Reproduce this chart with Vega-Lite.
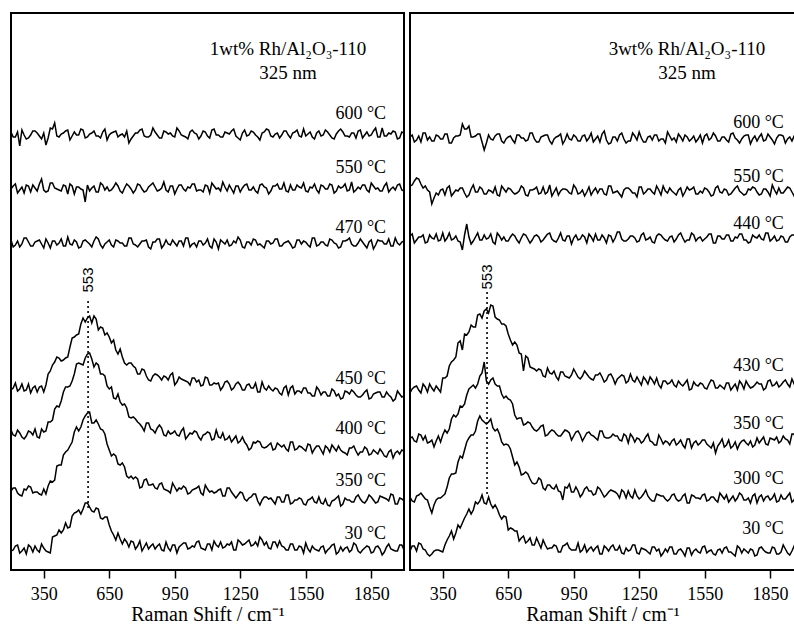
{
"$schema": "https://vega.github.io/schema/vega-lite/v6.json",
"padding": {"left": 10, "top": 12, "right": 0, "bottom": 0},
"background": "white",
"spacing": 6,
"bounds": "flush",
"config": {
 "view": {"stroke": "#000", "strokeWidth": 2},
 "axis": {"grid": false, "domain": false, "tickColor": "#000", "tickWidth": 1.5, "tickSize": 8},
 "line": {"color": "#000", "strokeWidth": 1.5}
},
"datasets": {
"l600": [{"x":200,"y":438},{"x":210,"y":433},{"x":220,"y":433},{"x":230,"y":438},{"x":240,"y":424},{"x":250,"y":440},{"x":260,"y":435},{"x":270,"y":431},{"x":280,"y":432},{"x":290,"y":435},{"x":300,"y":439},{"x":310,"y":439},{"x":320,"y":437},{"x":330,"y":434},{"x":340,"y":431},{"x":350,"y":437},{"x":360,"y":425},{"x":370,"y":432},{"x":380,"y":442},{"x":390,"y":441},
{"x":400,"y":447},{"x":410,"y":434},{"x":420,"y":433},{"x":430,"y":436},{"x":440,"y":437},{"x":450,"y":439},{"x":460,"y":440},{"x":470,"y":430},{"x":480,"y":434},{"x":490,"y":438},{"x":500,"y":435},{"x":510,"y":435},{"x":520,"y":441},{"x":530,"y":440},{"x":540,"y":432},{"x":550,"y":433},{"x":560,"y":436},{"x":570,"y":437},{"x":580,"y":439},{"x":590,"y":434},
{"x":600,"y":434},{"x":610,"y":432},{"x":620,"y":438},{"x":630,"y":441},{"x":640,"y":430},{"x":650,"y":435},{"x":660,"y":437},{"x":670,"y":438},{"x":680,"y":439},{"x":690,"y":433},{"x":700,"y":435},{"x":710,"y":436},{"x":720,"y":433},{"x":730,"y":439},{"x":740,"y":427},{"x":750,"y":431},{"x":760,"y":434},{"x":770,"y":437},{"x":780,"y":437},{"x":790,"y":440},
{"x":800,"y":441},{"x":810,"y":434},{"x":820,"y":433},{"x":830,"y":433},{"x":840,"y":435},{"x":850,"y":442},{"x":860,"y":438},{"x":870,"y":435},{"x":880,"y":432},{"x":890,"y":432},{"x":900,"y":439},{"x":910,"y":438},{"x":920,"y":436},{"x":930,"y":437},{"x":940,"y":434},{"x":950,"y":433},{"x":960,"y":442},{"x":970,"y":439},{"x":980,"y":435},{"x":990,"y":434},
{"x":1000,"y":433},{"x":1010,"y":431},{"x":1020,"y":438},{"x":1030,"y":440},{"x":1040,"y":437},{"x":1050,"y":436},{"x":1060,"y":431},{"x":1070,"y":434},{"x":1080,"y":439},{"x":1090,"y":438},{"x":1100,"y":434},{"x":1110,"y":432},{"x":1120,"y":440},{"x":1130,"y":441},{"x":1140,"y":435},{"x":1150,"y":435},{"x":1160,"y":433},{"x":1170,"y":433},{"x":1180,"y":438},{"x":1190,"y":437},
{"x":1200,"y":436},{"x":1210,"y":439},{"x":1220,"y":441},{"x":1230,"y":434},{"x":1240,"y":432},{"x":1250,"y":430},{"x":1260,"y":437},{"x":1270,"y":440},{"x":1280,"y":434},{"x":1290,"y":435},{"x":1300,"y":439},{"x":1310,"y":438},{"x":1320,"y":435},{"x":1330,"y":433},{"x":1340,"y":430},{"x":1350,"y":437},{"x":1360,"y":438},{"x":1370,"y":441},{"x":1380,"y":440},{"x":1390,"y":434},
{"x":1400,"y":433},{"x":1410,"y":436},{"x":1420,"y":437},{"x":1430,"y":432},{"x":1440,"y":435},{"x":1450,"y":439},{"x":1460,"y":439},{"x":1470,"y":435},{"x":1480,"y":432},{"x":1490,"y":437},{"x":1500,"y":438},{"x":1510,"y":440},{"x":1520,"y":434},{"x":1530,"y":433},{"x":1540,"y":441},{"x":1550,"y":434},{"x":1560,"y":436},{"x":1570,"y":438},{"x":1580,"y":433},{"x":1590,"y":431},
{"x":1600,"y":437},{"x":1610,"y":439},{"x":1620,"y":434},{"x":1630,"y":435},{"x":1640,"y":440},{"x":1650,"y":438},{"x":1660,"y":435},{"x":1670,"y":432},{"x":1680,"y":431},{"x":1690,"y":436},{"x":1700,"y":439},{"x":1710,"y":441},{"x":1720,"y":438},{"x":1730,"y":434},{"x":1740,"y":434},{"x":1750,"y":433},{"x":1760,"y":437},{"x":1770,"y":437},{"x":1780,"y":432},{"x":1790,"y":439},
{"x":1800,"y":440},{"x":1810,"y":432},{"x":1820,"y":435},{"x":1830,"y":438},{"x":1840,"y":434},{"x":1850,"y":435},{"x":1860,"y":439},{"x":1870,"y":442},{"x":1880,"y":433},{"x":1890,"y":433},{"x":1900,"y":442},{"x":1910,"y":434},{"x":1920,"y":434},{"x":1930,"y":437},{"x":1940,"y":436},{"x":1950,"y":439},{"x":1960,"y":438},{"x":1970,"y":431},{"x":1980,"y":432},{"x":1990,"y":438},{"x":2000,"y":437}],
"l550": [{"x":200,"y":381},{"x":210,"y":384},{"x":220,"y":386},{"x":230,"y":377},{"x":240,"y":380},{"x":250,"y":383},{"x":260,"y":377},{"x":270,"y":385},{"x":280,"y":384},{"x":290,"y":378},{"x":300,"y":385},{"x":310,"y":382},{"x":320,"y":379},{"x":330,"y":386},{"x":340,"y":391},{"x":350,"y":380},{"x":360,"y":378},{"x":370,"y":379},{"x":380,"y":387},{"x":390,"y":387},
{"x":400,"y":382},{"x":410,"y":381},{"x":420,"y":380},{"x":430,"y":379},{"x":440,"y":385},{"x":450,"y":384},{"x":460,"y":376},{"x":470,"y":386},{"x":480,"y":384},{"x":490,"y":376},{"x":500,"y":383},{"x":510,"y":383},{"x":520,"y":381},{"x":530,"y":380},{"x":540,"y":368},{"x":550,"y":385},{"x":560,"y":379},{"x":570,"y":382},{"x":580,"y":384},{"x":590,"y":378},
{"x":600,"y":378},{"x":610,"y":387},{"x":620,"y":385},{"x":630,"y":380},{"x":640,"y":383},{"x":650,"y":379},{"x":660,"y":380},{"x":670,"y":383},{"x":680,"y":387},{"x":690,"y":384},{"x":700,"y":379},{"x":710,"y":377},{"x":720,"y":382},{"x":730,"y":386},{"x":740,"y":384},{"x":750,"y":381},{"x":760,"y":377},{"x":770,"y":380},{"x":780,"y":386},{"x":790,"y":385},
{"x":800,"y":381},{"x":810,"y":378},{"x":820,"y":379},{"x":830,"y":383},{"x":840,"y":385},{"x":850,"y":387},{"x":860,"y":383},{"x":870,"y":379},{"x":880,"y":380},{"x":890,"y":382},{"x":900,"y":388},{"x":910,"y":380},{"x":920,"y":378},{"x":930,"y":384},{"x":940,"y":384},{"x":950,"y":376},{"x":960,"y":381},{"x":970,"y":385},{"x":980,"y":385},{"x":990,"y":381},
{"x":1000,"y":379},{"x":1010,"y":383},{"x":1020,"y":382},{"x":1030,"y":386},{"x":1040,"y":386},{"x":1050,"y":379},{"x":1060,"y":380},{"x":1070,"y":380},{"x":1080,"y":378},{"x":1090,"y":385},{"x":1100,"y":384},{"x":1110,"y":377},{"x":1120,"y":387},{"x":1130,"y":384},{"x":1140,"y":381},{"x":1150,"y":382},{"x":1160,"y":379},{"x":1170,"y":388},{"x":1180,"y":383},{"x":1190,"y":379},
{"x":1200,"y":385},{"x":1210,"y":381},{"x":1220,"y":377},{"x":1230,"y":384},{"x":1240,"y":384},{"x":1250,"y":378},{"x":1260,"y":382},{"x":1270,"y":385},{"x":1280,"y":386},{"x":1290,"y":380},{"x":1300,"y":380},{"x":1310,"y":383},{"x":1320,"y":379},{"x":1330,"y":377},{"x":1340,"y":385},{"x":1350,"y":386},{"x":1360,"y":383},{"x":1370,"y":382},{"x":1380,"y":376},{"x":1390,"y":379},
{"x":1400,"y":384},{"x":1410,"y":384},{"x":1420,"y":386},{"x":1430,"y":381},{"x":1440,"y":381},{"x":1450,"y":387},{"x":1460,"y":379},{"x":1470,"y":378},{"x":1480,"y":385},{"x":1490,"y":380},{"x":1500,"y":380},{"x":1510,"y":385},{"x":1520,"y":383},{"x":1530,"y":382},{"x":1540,"y":387},{"x":1550,"y":379},{"x":1560,"y":378},{"x":1570,"y":383},{"x":1580,"y":382},{"x":1590,"y":386},
{"x":1600,"y":380},{"x":1610,"y":377},{"x":1620,"y":385},{"x":1630,"y":384},{"x":1640,"y":381},{"x":1650,"y":381},{"x":1660,"y":386},{"x":1670,"y":385},{"x":1680,"y":377},{"x":1690,"y":379},{"x":1700,"y":384},{"x":1710,"y":382},{"x":1720,"y":383},{"x":1730,"y":386},{"x":1740,"y":379},{"x":1750,"y":380},{"x":1760,"y":388},{"x":1770,"y":378},{"x":1780,"y":380},{"x":1790,"y":383},
{"x":1800,"y":381},{"x":1810,"y":385},{"x":1820,"y":385},{"x":1830,"y":380},{"x":1840,"y":378},{"x":1850,"y":387},{"x":1860,"y":384},{"x":1870,"y":381},{"x":1880,"y":382},{"x":1890,"y":379},{"x":1900,"y":379},{"x":1910,"y":384},{"x":1920,"y":387},{"x":1930,"y":378},{"x":1940,"y":381},{"x":1950,"y":383},{"x":1960,"y":380},{"x":1970,"y":385},{"x":1980,"y":386},{"x":1990,"y":380},{"x":2000,"y":379}],
"l470": [{"x":200,"y":330},{"x":210,"y":323},{"x":220,"y":325},{"x":230,"y":329},{"x":240,"y":323},{"x":250,"y":326},{"x":260,"y":332},{"x":270,"y":332},{"x":280,"y":328},{"x":290,"y":324},{"x":300,"y":324},{"x":310,"y":328},{"x":320,"y":329},{"x":330,"y":330},{"x":340,"y":326},{"x":350,"y":322},{"x":360,"y":331},{"x":370,"y":327},{"x":380,"y":322},{"x":390,"y":329},
{"x":400,"y":329},{"x":410,"y":325},{"x":420,"y":327},{"x":430,"y":331},{"x":440,"y":324},{"x":450,"y":324},{"x":460,"y":333},{"x":470,"y":326},{"x":480,"y":325},{"x":490,"y":330},{"x":500,"y":328},{"x":510,"y":322},{"x":520,"y":323},{"x":530,"y":329},{"x":540,"y":330},{"x":550,"y":328},{"x":560,"y":326},{"x":570,"y":323},{"x":580,"y":329},{"x":590,"y":333},
{"x":600,"y":331},{"x":610,"y":325},{"x":620,"y":322},{"x":630,"y":326},{"x":640,"y":328},{"x":650,"y":330},{"x":660,"y":325},{"x":670,"y":323},{"x":680,"y":330},{"x":690,"y":329},{"x":700,"y":327},{"x":710,"y":327},{"x":720,"y":324},{"x":730,"y":324},{"x":740,"y":332},{"x":750,"y":332},{"x":760,"y":326},{"x":770,"y":325},{"x":780,"y":323},{"x":790,"y":326},
{"x":800,"y":329},{"x":810,"y":329},{"x":820,"y":330},{"x":830,"y":323},{"x":840,"y":321},{"x":850,"y":328},{"x":860,"y":328},{"x":870,"y":331},{"x":880,"y":331},{"x":890,"y":322},{"x":900,"y":325},{"x":910,"y":330},{"x":920,"y":326},{"x":930,"y":325},{"x":940,"y":330},{"x":950,"y":327},{"x":960,"y":324},{"x":970,"y":329},{"x":980,"y":329},{"x":990,"y":324},
{"x":1000,"y":332},{"x":1010,"y":332},{"x":1020,"y":323},{"x":1030,"y":326},{"x":1040,"y":327},{"x":1050,"y":323},{"x":1060,"y":329},{"x":1070,"y":329},{"x":1080,"y":325},{"x":1090,"y":327},{"x":1100,"y":331},{"x":1110,"y":324},{"x":1120,"y":322},{"x":1130,"y":331},{"x":1140,"y":328},{"x":1150,"y":321},{"x":1160,"y":330},{"x":1170,"y":328},{"x":1180,"y":326},{"x":1190,"y":330},
{"x":1200,"y":324},{"x":1210,"y":325},{"x":1220,"y":329},{"x":1230,"y":327},{"x":1240,"y":333},{"x":1250,"y":330},{"x":1260,"y":323},{"x":1270,"y":322},{"x":1280,"y":328},{"x":1290,"y":328},{"x":1300,"y":325},{"x":1310,"y":331},{"x":1320,"y":330},{"x":1330,"y":325},{"x":1340,"y":326},{"x":1350,"y":324},{"x":1360,"y":322},{"x":1370,"y":329},{"x":1380,"y":329},{"x":1390,"y":326},
{"x":1400,"y":327},{"x":1410,"y":331},{"x":1420,"y":331},{"x":1430,"y":324},{"x":1440,"y":324},{"x":1450,"y":327},{"x":1460,"y":328},{"x":1470,"y":329},{"x":1480,"y":326},{"x":1490,"y":322},{"x":1500,"y":323},{"x":1510,"y":330},{"x":1520,"y":330},{"x":1530,"y":326},{"x":1540,"y":329},{"x":1550,"y":328},{"x":1560,"y":325},{"x":1570,"y":323},{"x":1580,"y":332},{"x":1590,"y":332},
{"x":1600,"y":324},{"x":1610,"y":325},{"x":1620,"y":328},{"x":1630,"y":328},{"x":1640,"y":325},{"x":1650,"y":324},{"x":1660,"y":331},{"x":1670,"y":330},{"x":1680,"y":327},{"x":1690,"y":326},{"x":1700,"y":322},{"x":1710,"y":323},{"x":1720,"y":329},{"x":1730,"y":329},{"x":1740,"y":330},{"x":1750,"y":332},{"x":1760,"y":326},{"x":1770,"y":324},{"x":1780,"y":324},{"x":1790,"y":327},
{"x":1800,"y":331},{"x":1810,"y":328},{"x":1820,"y":325},{"x":1830,"y":322},{"x":1840,"y":328},{"x":1850,"y":330},{"x":1860,"y":321},{"x":1870,"y":325},{"x":1880,"y":330},{"x":1890,"y":329},{"x":1900,"y":329},{"x":1910,"y":326},{"x":1920,"y":326},{"x":1930,"y":331},{"x":1940,"y":324},{"x":1950,"y":324},{"x":1960,"y":332},{"x":1970,"y":327},{"x":1980,"y":325},{"x":1990,"y":328},{"x":2000,"y":329}],
"l450": [{"x":200,"y":180},{"x":210,"y":182},{"x":220,"y":187},{"x":230,"y":179},{"x":240,"y":181},{"x":250,"y":186},{"x":260,"y":179},{"x":270,"y":180},{"x":280,"y":186},{"x":290,"y":177},{"x":300,"y":182},{"x":310,"y":184},{"x":320,"y":178},{"x":330,"y":183},{"x":340,"y":184},{"x":350,"y":178},{"x":360,"y":185},{"x":370,"y":196},{"x":380,"y":199},{"x":390,"y":205},
{"x":400,"y":208},{"x":410,"y":213},{"x":420,"y":212},{"x":430,"y":209},{"x":440,"y":210},{"x":450,"y":212},{"x":460,"y":213},{"x":470,"y":223},{"x":480,"y":232},{"x":490,"y":233},{"x":500,"y":235},{"x":510,"y":236},{"x":520,"y":246},{"x":530,"y":252},{"x":540,"y":248},{"x":550,"y":252},{"x":560,"y":254},{"x":570,"y":247},{"x":580,"y":254},{"x":590,"y":251},
{"x":600,"y":240},{"x":610,"y":243},{"x":620,"y":242},{"x":630,"y":235},{"x":640,"y":237},{"x":650,"y":233},{"x":660,"y":227},{"x":670,"y":230},{"x":680,"y":220},{"x":690,"y":216},{"x":700,"y":221},{"x":710,"y":213},{"x":720,"y":207},{"x":730,"y":205},{"x":740,"y":207},{"x":750,"y":207},{"x":760,"y":204},{"x":770,"y":202},{"x":780,"y":196},{"x":790,"y":196},
{"x":800,"y":201},{"x":810,"y":200},{"x":820,"y":194},{"x":830,"y":190},{"x":840,"y":189},{"x":850,"y":194},{"x":860,"y":196},{"x":870,"y":195},{"x":880,"y":193},{"x":890,"y":190},{"x":900,"y":194},{"x":910,"y":193},{"x":920,"y":190},{"x":930,"y":195},{"x":940,"y":197},{"x":950,"y":185},{"x":960,"y":188},{"x":970,"y":193},{"x":980,"y":191},{"x":990,"y":190},
{"x":1000,"y":189},{"x":1010,"y":188},{"x":1020,"y":185},{"x":1030,"y":192},{"x":1040,"y":192},{"x":1050,"y":188},{"x":1060,"y":190},{"x":1070,"y":184},{"x":1080,"y":185},{"x":1090,"y":193},{"x":1100,"y":192},{"x":1110,"y":185},{"x":1120,"y":185},{"x":1130,"y":187},{"x":1140,"y":186},{"x":1150,"y":187},{"x":1160,"y":180},{"x":1170,"y":183},{"x":1180,"y":188},{"x":1190,"y":189},
{"x":1200,"y":186},{"x":1210,"y":180},{"x":1220,"y":182},{"x":1230,"y":186},{"x":1240,"y":188},{"x":1250,"y":185},{"x":1260,"y":180},{"x":1270,"y":180},{"x":1280,"y":185},{"x":1290,"y":186},{"x":1300,"y":182},{"x":1310,"y":182},{"x":1320,"y":187},{"x":1330,"y":178},{"x":1340,"y":178},{"x":1350,"y":188},{"x":1360,"y":182},{"x":1370,"y":180},{"x":1380,"y":184},{"x":1390,"y":181},
{"x":1400,"y":179},{"x":1410,"y":182},{"x":1420,"y":181},{"x":1430,"y":177},{"x":1440,"y":175},{"x":1450,"y":182},{"x":1460,"y":184},{"x":1470,"y":175},{"x":1480,"y":182},{"x":1490,"y":184},{"x":1500,"y":176},{"x":1510,"y":179},{"x":1520,"y":179},{"x":1530,"y":177},{"x":1540,"y":182},{"x":1550,"y":182},{"x":1560,"y":177},{"x":1570,"y":177},{"x":1580,"y":174},{"x":1590,"y":174},
{"x":1600,"y":183},{"x":1610,"y":180},{"x":1620,"y":175},{"x":1630,"y":178},{"x":1640,"y":178},{"x":1650,"y":174},{"x":1660,"y":174},{"x":1670,"y":181},{"x":1680,"y":179},{"x":1690,"y":174},{"x":1700,"y":176},{"x":1710,"y":171},{"x":1720,"y":172},{"x":1730,"y":179},{"x":1740,"y":178},{"x":1750,"y":176},{"x":1760,"y":180},{"x":1770,"y":178},{"x":1780,"y":175},{"x":1790,"y":173},
{"x":1800,"y":173},{"x":1810,"y":175},{"x":1820,"y":178},{"x":1830,"y":180},{"x":1840,"y":171},{"x":1850,"y":172},{"x":1860,"y":176},{"x":1870,"y":177},{"x":1880,"y":178},{"x":1890,"y":178},{"x":1900,"y":173},{"x":1910,"y":173},{"x":1920,"y":178},{"x":1930,"y":175},{"x":1940,"y":173},{"x":1950,"y":169},{"x":1960,"y":171},{"x":1970,"y":179},{"x":1980,"y":176},{"x":1990,"y":173},{"x":2000,"y":174}],
"l400": [{"x":200,"y":140},{"x":210,"y":135},{"x":220,"y":134},{"x":230,"y":140},{"x":240,"y":137},{"x":250,"y":133},{"x":260,"y":131},{"x":270,"y":134},{"x":280,"y":139},{"x":290,"y":138},{"x":300,"y":135},{"x":310,"y":141},{"x":320,"y":133},{"x":330,"y":132},{"x":340,"y":141},{"x":350,"y":138},{"x":360,"y":139},{"x":370,"y":148},{"x":380,"y":148},{"x":390,"y":150},
{"x":400,"y":161},{"x":410,"y":164},{"x":420,"y":163},{"x":430,"y":169},{"x":440,"y":178},{"x":450,"y":183},{"x":460,"y":183},{"x":470,"y":184},{"x":480,"y":189},{"x":490,"y":196},{"x":500,"y":206},{"x":510,"y":207},{"x":520,"y":206},{"x":530,"y":205},{"x":540,"y":212},{"x":550,"y":216},{"x":560,"y":217},{"x":570,"y":211},{"x":580,"y":203},{"x":590,"y":207},
{"x":600,"y":205},{"x":610,"y":196},{"x":620,"y":196},{"x":630,"y":194},{"x":640,"y":184},{"x":650,"y":181},{"x":660,"y":183},{"x":670,"y":172},{"x":680,"y":171},{"x":690,"y":176},{"x":700,"y":168},{"x":710,"y":165},{"x":720,"y":166},{"x":730,"y":162},{"x":740,"y":153},{"x":750,"y":152},{"x":760,"y":153},{"x":770,"y":151},{"x":780,"y":148},{"x":790,"y":146},
{"x":800,"y":143},{"x":810,"y":139},{"x":820,"y":147},{"x":830,"y":147},{"x":840,"y":141},{"x":850,"y":140},{"x":860,"y":137},{"x":870,"y":142},{"x":880,"y":145},{"x":890,"y":142},{"x":900,"y":135},{"x":910,"y":134},{"x":920,"y":139},{"x":930,"y":136},{"x":940,"y":137},{"x":950,"y":139},{"x":960,"y":135},{"x":970,"y":134},{"x":980,"y":139},{"x":990,"y":142},
{"x":1000,"y":131},{"x":1010,"y":134},{"x":1020,"y":137},{"x":1030,"y":136},{"x":1040,"y":139},{"x":1050,"y":138},{"x":1060,"y":133},{"x":1070,"y":130},{"x":1080,"y":135},{"x":1090,"y":136},{"x":1100,"y":138},{"x":1110,"y":137},{"x":1120,"y":130},{"x":1130,"y":131},{"x":1140,"y":140},{"x":1150,"y":133},{"x":1160,"y":132},{"x":1170,"y":137},{"x":1180,"y":130},{"x":1190,"y":131},
{"x":1200,"y":134},{"x":1210,"y":128},{"x":1220,"y":131},{"x":1230,"y":134},{"x":1240,"y":127},{"x":1250,"y":129},{"x":1260,"y":133},{"x":1270,"y":128},{"x":1280,"y":125},{"x":1290,"y":120},{"x":1300,"y":122},{"x":1310,"y":128},{"x":1320,"y":127},{"x":1330,"y":129},{"x":1340,"y":128},{"x":1350,"y":123},{"x":1360,"y":122},{"x":1370,"y":123},{"x":1380,"y":125},{"x":1390,"y":127},
{"x":1400,"y":120},{"x":1410,"y":121},{"x":1420,"y":127},{"x":1430,"y":125},{"x":1440,"y":123},{"x":1450,"y":125},{"x":1460,"y":121},{"x":1470,"y":119},{"x":1480,"y":128},{"x":1490,"y":128},{"x":1500,"y":120},{"x":1510,"y":121},{"x":1520,"y":124},{"x":1530,"y":123},{"x":1540,"y":121},{"x":1550,"y":119},{"x":1560,"y":126},{"x":1570,"y":125},{"x":1580,"y":117},{"x":1590,"y":121},
{"x":1600,"y":124},{"x":1610,"y":124},{"x":1620,"y":120},{"x":1630,"y":116},{"x":1640,"y":124},{"x":1650,"y":122},{"x":1660,"y":118},{"x":1670,"y":125},{"x":1680,"y":122},{"x":1690,"y":119},{"x":1700,"y":124},{"x":1710,"y":120},{"x":1720,"y":118},{"x":1730,"y":117},{"x":1740,"y":115},{"x":1750,"y":122},{"x":1760,"y":122},{"x":1770,"y":124},{"x":1780,"y":119},{"x":1790,"y":115},
{"x":1800,"y":118},{"x":1810,"y":118},{"x":1820,"y":123},{"x":1830,"y":121},{"x":1840,"y":115},{"x":1850,"y":116},{"x":1860,"y":120},{"x":1870,"y":118},{"x":1880,"y":116},{"x":1890,"y":121},{"x":1900,"y":118},{"x":1910,"y":114},{"x":1920,"y":113},{"x":1930,"y":118},{"x":1940,"y":120},{"x":1950,"y":112},{"x":1960,"y":117},{"x":1970,"y":119},{"x":1980,"y":116},{"x":1990,"y":120},{"x":2000,"y":119}],
"l350": [{"x":200,"y":79},{"x":210,"y":82},{"x":220,"y":82},{"x":230,"y":77},{"x":240,"y":75},{"x":250,"y":74},{"x":260,"y":81},{"x":270,"y":80},{"x":280,"y":84},{"x":290,"y":83},{"x":300,"y":77},{"x":310,"y":78},{"x":320,"y":78},{"x":330,"y":76},{"x":340,"y":75},{"x":350,"y":81},{"x":360,"y":76},{"x":370,"y":84},{"x":380,"y":89},{"x":390,"y":88},
{"x":400,"y":90},{"x":410,"y":104},{"x":420,"y":105},{"x":430,"y":105},{"x":440,"y":115},{"x":450,"y":118},{"x":460,"y":120},{"x":470,"y":124},{"x":480,"y":128},{"x":490,"y":138},{"x":500,"y":143},{"x":510,"y":139},{"x":520,"y":143},{"x":530,"y":150},{"x":540,"y":154},{"x":550,"y":157},{"x":560,"y":158},{"x":570,"y":147},{"x":580,"y":147},{"x":590,"y":150},
{"x":600,"y":146},{"x":610,"y":141},{"x":620,"y":140},{"x":630,"y":136},{"x":640,"y":126},{"x":650,"y":120},{"x":660,"y":114},{"x":670,"y":116},{"x":680,"y":114},{"x":690,"y":106},{"x":700,"y":105},{"x":710,"y":107},{"x":720,"y":103},{"x":730,"y":94},{"x":740,"y":92},{"x":750,"y":94},{"x":760,"y":91},{"x":770,"y":93},{"x":780,"y":91},{"x":790,"y":82},
{"x":800,"y":83},{"x":810,"y":90},{"x":820,"y":91},{"x":830,"y":85},{"x":840,"y":85},{"x":850,"y":86},{"x":860,"y":82},{"x":870,"y":81},{"x":880,"y":86},{"x":890,"y":87},{"x":900,"y":81},{"x":910,"y":80},{"x":920,"y":79},{"x":930,"y":77},{"x":940,"y":87},{"x":950,"y":83},{"x":960,"y":79},{"x":970,"y":82},{"x":980,"y":81},{"x":990,"y":84},
{"x":1000,"y":82},{"x":1010,"y":76},{"x":1020,"y":77},{"x":1030,"y":80},{"x":1040,"y":81},{"x":1050,"y":82},{"x":1060,"y":84},{"x":1070,"y":77},{"x":1080,"y":75},{"x":1090,"y":85},{"x":1100,"y":81},{"x":1110,"y":78},{"x":1120,"y":79},{"x":1130,"y":77},{"x":1140,"y":78},{"x":1150,"y":80},{"x":1160,"y":81},{"x":1170,"y":74},{"x":1180,"y":74},{"x":1190,"y":82},
{"x":1200,"y":82},{"x":1210,"y":78},{"x":1220,"y":75},{"x":1230,"y":72},{"x":1240,"y":75},{"x":1250,"y":78},{"x":1260,"y":77},{"x":1270,"y":71},{"x":1280,"y":69},{"x":1290,"y":72},{"x":1300,"y":73},{"x":1310,"y":76},{"x":1320,"y":76},{"x":1330,"y":69},{"x":1340,"y":65},{"x":1350,"y":70},{"x":1360,"y":73},{"x":1370,"y":73},{"x":1380,"y":71},{"x":1390,"y":72},
{"x":1400,"y":69},{"x":1410,"y":66},{"x":1420,"y":73},{"x":1430,"y":73},{"x":1440,"y":68},{"x":1450,"y":68},{"x":1460,"y":75},{"x":1470,"y":75},{"x":1480,"y":66},{"x":1490,"y":67},{"x":1500,"y":70},{"x":1510,"y":70},{"x":1520,"y":72},{"x":1530,"y":71},{"x":1540,"y":66},{"x":1550,"y":65},{"x":1560,"y":70},{"x":1570,"y":71},{"x":1580,"y":73},{"x":1590,"y":68},
{"x":1600,"y":67},{"x":1610,"y":73},{"x":1620,"y":67},{"x":1630,"y":66},{"x":1640,"y":71},{"x":1650,"y":65},{"x":1660,"y":64},{"x":1670,"y":69},{"x":1680,"y":70},{"x":1690,"y":72},{"x":1700,"y":74},{"x":1710,"y":64},{"x":1720,"y":66},{"x":1730,"y":72},{"x":1740,"y":70},{"x":1750,"y":70},{"x":1760,"y":68},{"x":1770,"y":68},{"x":1780,"y":73},{"x":1790,"y":75},
{"x":1800,"y":71},{"x":1810,"y":68},{"x":1820,"y":67},{"x":1830,"y":70},{"x":1840,"y":75},{"x":1850,"y":73},{"x":1860,"y":70},{"x":1870,"y":67},{"x":1880,"y":68},{"x":1890,"y":74},{"x":1900,"y":73},{"x":1910,"y":72},{"x":1920,"y":71},{"x":1930,"y":69},{"x":1940,"y":76},{"x":1950,"y":75},{"x":1960,"y":66},{"x":1970,"y":66},{"x":1980,"y":72},{"x":1990,"y":71},{"x":2000,"y":69}],
"l30": [{"x":200,"y":19},{"x":210,"y":20},{"x":220,"y":24},{"x":230,"y":25},{"x":240,"y":17},{"x":250,"y":19},{"x":260,"y":22},{"x":270,"y":16},{"x":280,"y":25},{"x":290,"y":23},{"x":300,"y":18},{"x":310,"y":24},{"x":320,"y":20},{"x":330,"y":18},{"x":340,"y":26},{"x":350,"y":22},{"x":360,"y":19},{"x":370,"y":18},{"x":380,"y":17},{"x":390,"y":33},
{"x":400,"y":34},{"x":410,"y":35},{"x":420,"y":40},{"x":430,"y":37},{"x":440,"y":40},{"x":450,"y":47},{"x":460,"y":42},{"x":470,"y":43},{"x":480,"y":54},{"x":490,"y":57},{"x":500,"y":58},{"x":510,"y":60},{"x":520,"y":56},{"x":530,"y":61},{"x":540,"y":67},{"x":550,"y":67},{"x":560,"y":63},{"x":570,"y":59},{"x":580,"y":58},{"x":590,"y":62},
{"x":600,"y":61},{"x":610,"y":52},{"x":620,"y":51},{"x":630,"y":53},{"x":640,"y":53},{"x":650,"y":45},{"x":660,"y":39},{"x":670,"y":35},{"x":680,"y":30},{"x":690,"y":37},{"x":700,"y":31},{"x":710,"y":26},{"x":720,"y":31},{"x":730,"y":28},{"x":740,"y":23},{"x":750,"y":29},{"x":760,"y":28},{"x":770,"y":21},{"x":780,"y":24},{"x":790,"y":29},
{"x":800,"y":19},{"x":810,"y":23},{"x":820,"y":27},{"x":830,"y":21},{"x":840,"y":24},{"x":850,"y":26},{"x":860,"y":21},{"x":870,"y":24},{"x":880,"y":26},{"x":890,"y":20},{"x":900,"y":19},{"x":910,"y":28},{"x":920,"y":22},{"x":930,"y":19},{"x":940,"y":25},{"x":950,"y":25},{"x":960,"y":17},{"x":970,"y":23},{"x":980,"y":25},{"x":990,"y":27},
{"x":1000,"y":27},{"x":1010,"y":21},{"x":1020,"y":22},{"x":1030,"y":24},{"x":1040,"y":23},{"x":1050,"y":28},{"x":1060,"y":29},{"x":1070,"y":22},{"x":1080,"y":21},{"x":1090,"y":20},{"x":1100,"y":26},{"x":1110,"y":26},{"x":1120,"y":20},{"x":1130,"y":29},{"x":1140,"y":25},{"x":1150,"y":23},{"x":1160,"y":28},{"x":1170,"y":22},{"x":1180,"y":23},{"x":1190,"y":26},
{"x":1200,"y":25},{"x":1210,"y":28},{"x":1220,"y":20},{"x":1230,"y":20},{"x":1240,"y":30},{"x":1250,"y":28},{"x":1260,"y":25},{"x":1270,"y":26},{"x":1280,"y":28},{"x":1290,"y":30},{"x":1300,"y":24},{"x":1310,"y":25},{"x":1320,"y":28},{"x":1330,"y":24},{"x":1340,"y":33},{"x":1350,"y":30},{"x":1360,"y":25},{"x":1370,"y":28},{"x":1380,"y":22},{"x":1390,"y":21},
{"x":1400,"y":28},{"x":1410,"y":28},{"x":1420,"y":23},{"x":1430,"y":29},{"x":1440,"y":24},{"x":1450,"y":23},{"x":1460,"y":20},{"x":1470,"y":20},{"x":1480,"y":26},{"x":1490,"y":26},{"x":1500,"y":20},{"x":1510,"y":20},{"x":1520,"y":24},{"x":1530,"y":23},{"x":1540,"y":17},{"x":1550,"y":27},{"x":1560,"y":21},{"x":1570,"y":18},{"x":1580,"y":24},{"x":1590,"y":21},
{"x":1600,"y":20},{"x":1610,"y":19},{"x":1620,"y":23},{"x":1630,"y":24},{"x":1640,"y":17},{"x":1650,"y":20},{"x":1660,"y":22},{"x":1670,"y":25},{"x":1680,"y":26},{"x":1690,"y":16},{"x":1700,"y":18},{"x":1710,"y":23},{"x":1720,"y":19},{"x":1730,"y":22},{"x":1740,"y":23},{"x":1750,"y":18},{"x":1760,"y":20},{"x":1770,"y":27},{"x":1780,"y":25},{"x":1790,"y":19},
{"x":1800,"y":17},{"x":1810,"y":20},{"x":1820,"y":22},{"x":1830,"y":24},{"x":1840,"y":23},{"x":1850,"y":17},{"x":1860,"y":18},{"x":1870,"y":23},{"x":1880,"y":24},{"x":1890,"y":21},{"x":1900,"y":15},{"x":1910,"y":18},{"x":1920,"y":23},{"x":1930,"y":26},{"x":1940,"y":21},{"x":1950,"y":20},{"x":1960,"y":19},{"x":1970,"y":19},{"x":1980,"y":25},{"x":1990,"y":25},{"x":2000,"y":20}],
"r600": [{"x":200,"y":433},{"x":210,"y":435},{"x":220,"y":428},{"x":230,"y":430},{"x":240,"y":434},{"x":250,"y":428},{"x":260,"y":437},{"x":270,"y":437},{"x":280,"y":430},{"x":290,"y":433},{"x":300,"y":429},{"x":310,"y":429},{"x":320,"y":435},{"x":330,"y":434},{"x":340,"y":431},{"x":350,"y":431},{"x":360,"y":436},{"x":370,"y":436},{"x":380,"y":427},{"x":390,"y":427},
{"x":400,"y":432},{"x":410,"y":434},{"x":420,"y":434},{"x":430,"y":435},{"x":440,"y":446},{"x":450,"y":441},{"x":460,"y":441},{"x":470,"y":444},{"x":480,"y":433},{"x":490,"y":433},{"x":500,"y":434},{"x":510,"y":436},{"x":520,"y":436},{"x":530,"y":428},{"x":540,"y":420},{"x":550,"y":427},{"x":560,"y":435},{"x":570,"y":431},{"x":580,"y":430},{"x":590,"y":434},
{"x":600,"y":436},{"x":610,"y":436},{"x":620,"y":429},{"x":630,"y":427},{"x":640,"y":431},{"x":650,"y":433},{"x":660,"y":434},{"x":670,"y":430},{"x":680,"y":427},{"x":690,"y":435},{"x":700,"y":435},{"x":710,"y":432},{"x":720,"y":432},{"x":730,"y":429},{"x":740,"y":430},{"x":750,"y":437},{"x":760,"y":437},{"x":770,"y":431},{"x":780,"y":428},{"x":790,"y":428},
{"x":800,"y":433},{"x":810,"y":434},{"x":820,"y":435},{"x":830,"y":435},{"x":840,"y":429},{"x":850,"y":426},{"x":860,"y":431},{"x":870,"y":433},{"x":880,"y":434},{"x":890,"y":436},{"x":900,"y":426},{"x":910,"y":430},{"x":920,"y":436},{"x":930,"y":431},{"x":940,"y":430},{"x":950,"y":435},{"x":960,"y":433},{"x":970,"y":429},{"x":980,"y":429},{"x":990,"y":434},
{"x":1000,"y":435},{"x":1010,"y":429},{"x":1020,"y":432},{"x":1030,"y":437},{"x":1040,"y":428},{"x":1050,"y":431},{"x":1060,"y":434},{"x":1070,"y":428},{"x":1080,"y":436},{"x":1090,"y":439},{"x":1100,"y":430},{"x":1110,"y":426},{"x":1120,"y":427},{"x":1130,"y":433},{"x":1140,"y":433},{"x":1150,"y":429},{"x":1160,"y":435},{"x":1170,"y":437},{"x":1180,"y":431},{"x":1190,"y":427},
{"x":1200,"y":429},{"x":1210,"y":429},{"x":1220,"y":437},{"x":1230,"y":434},{"x":1240,"y":430},{"x":1250,"y":438},{"x":1260,"y":432},{"x":1270,"y":428},{"x":1280,"y":428},{"x":1290,"y":433},{"x":1300,"y":434},{"x":1310,"y":430},{"x":1320,"y":435},{"x":1330,"y":435},{"x":1340,"y":429},{"x":1350,"y":431},{"x":1360,"y":431},{"x":1370,"y":427},{"x":1380,"y":438},{"x":1390,"y":434},
{"x":1400,"y":430},{"x":1410,"y":432},{"x":1420,"y":428},{"x":1430,"y":436},{"x":1440,"y":433},{"x":1450,"y":429},{"x":1460,"y":435},{"x":1470,"y":433},{"x":1480,"y":429},{"x":1490,"y":431},{"x":1500,"y":434},{"x":1510,"y":428},{"x":1520,"y":431},{"x":1530,"y":435},{"x":1540,"y":427},{"x":1550,"y":434},{"x":1560,"y":436},{"x":1570,"y":430},{"x":1580,"y":432},{"x":1590,"y":437},
{"x":1600,"y":434},{"x":1610,"y":429},{"x":1620,"y":429},{"x":1630,"y":433},{"x":1640,"y":433},{"x":1650,"y":430},{"x":1660,"y":428},{"x":1670,"y":436},{"x":1680,"y":437},{"x":1690,"y":432},{"x":1700,"y":430},{"x":1710,"y":427},{"x":1720,"y":431},{"x":1730,"y":434},{"x":1740,"y":435},{"x":1750,"y":435},{"x":1760,"y":426},{"x":1770,"y":431},{"x":1780,"y":434},{"x":1790,"y":429},
{"x":1800,"y":433},{"x":1810,"y":436},{"x":1820,"y":429},{"x":1830,"y":430},{"x":1840,"y":436},{"x":1850,"y":433},{"x":1860,"y":430},{"x":1870,"y":426},{"x":1880,"y":432},{"x":1890,"y":435},{"x":1900,"y":435},{"x":1910,"y":434},{"x":1920,"y":427},{"x":1930,"y":431},{"x":1940,"y":433},{"x":1950,"y":429},{"x":1960,"y":434},{"x":1970,"y":437}],
"r550": [{"x":200,"y":384},{"x":210,"y":385},{"x":220,"y":389},{"x":230,"y":392},{"x":240,"y":391},{"x":250,"y":386},{"x":260,"y":382},{"x":270,"y":384},{"x":280,"y":380},{"x":290,"y":378},{"x":300,"y":366},{"x":310,"y":372},{"x":320,"y":377},{"x":330,"y":375},{"x":340,"y":380},{"x":350,"y":381},{"x":360,"y":375},{"x":370,"y":382},{"x":380,"y":384},{"x":390,"y":374},
{"x":400,"y":377},{"x":410,"y":380},{"x":420,"y":379},{"x":430,"y":382},{"x":440,"y":382},{"x":450,"y":377},{"x":460,"y":373},{"x":470,"y":375},{"x":480,"y":381},{"x":490,"y":385},{"x":500,"y":378},{"x":510,"y":378},{"x":520,"y":383},{"x":530,"y":381},{"x":540,"y":376},{"x":550,"y":376},{"x":560,"y":380},{"x":570,"y":379},{"x":580,"y":377},{"x":590,"y":383},
{"x":600,"y":375},{"x":610,"y":374},{"x":620,"y":384},{"x":630,"y":381},{"x":640,"y":378},{"x":650,"y":382},{"x":660,"y":381},{"x":670,"y":378},{"x":680,"y":376},{"x":690,"y":377},{"x":700,"y":379},{"x":710,"y":384},{"x":720,"y":382},{"x":730,"y":375},{"x":740,"y":374},{"x":750,"y":380},{"x":760,"y":380},{"x":770,"y":381},{"x":780,"y":383},{"x":790,"y":376},
{"x":800,"y":377},{"x":810,"y":383},{"x":820,"y":376},{"x":830,"y":378},{"x":840,"y":385},{"x":850,"y":374},{"x":860,"y":378},{"x":870,"y":382},{"x":880,"y":375},{"x":890,"y":379},{"x":900,"y":381},{"x":910,"y":381},{"x":920,"y":380},{"x":930,"y":377},{"x":940,"y":376},{"x":950,"y":385},{"x":960,"y":382},{"x":970,"y":376},{"x":980,"y":377},{"x":990,"y":380},
{"x":1000,"y":374},{"x":1010,"y":378},{"x":1020,"y":383},{"x":1030,"y":375},{"x":1040,"y":379},{"x":1050,"y":382},{"x":1060,"y":377},{"x":1070,"y":381},{"x":1080,"y":381},{"x":1090,"y":376},{"x":1100,"y":375},{"x":1110,"y":384},{"x":1120,"y":384},{"x":1130,"y":377},{"x":1140,"y":378},{"x":1150,"y":379},{"x":1160,"y":376},{"x":1170,"y":373},{"x":1180,"y":380},{"x":1190,"y":382},
{"x":1200,"y":382},{"x":1210,"y":380},{"x":1220,"y":377},{"x":1230,"y":377},{"x":1240,"y":373},{"x":1250,"y":383},{"x":1260,"y":383},{"x":1270,"y":376},{"x":1280,"y":378},{"x":1290,"y":381},{"x":1300,"y":381},{"x":1310,"y":378},{"x":1320,"y":376},{"x":1330,"y":384},{"x":1340,"y":380},{"x":1350,"y":375},{"x":1360,"y":384},{"x":1370,"y":379},{"x":1380,"y":377},{"x":1390,"y":382},
{"x":1400,"y":379},{"x":1410,"y":377},{"x":1420,"y":375},{"x":1430,"y":380},{"x":1440,"y":382},{"x":1450,"y":374},{"x":1460,"y":378},{"x":1470,"y":383},{"x":1480,"y":380},{"x":1490,"y":381},{"x":1500,"y":383},{"x":1510,"y":376},{"x":1520,"y":376},{"x":1530,"y":379},{"x":1540,"y":377},{"x":1550,"y":382},{"x":1560,"y":381},{"x":1570,"y":378},{"x":1580,"y":374},{"x":1590,"y":375},
{"x":1600,"y":382},{"x":1610,"y":384},{"x":1620,"y":378},{"x":1630,"y":377},{"x":1640,"y":381},{"x":1650,"y":380},{"x":1660,"y":375},{"x":1670,"y":376},{"x":1680,"y":379},{"x":1690,"y":382},{"x":1700,"y":384},{"x":1710,"y":379},{"x":1720,"y":377},{"x":1730,"y":375},{"x":1740,"y":376},{"x":1750,"y":381},{"x":1760,"y":380},{"x":1770,"y":383},{"x":1780,"y":382},{"x":1790,"y":378},
{"x":1800,"y":375},{"x":1810,"y":376},{"x":1820,"y":381},{"x":1830,"y":381},{"x":1840,"y":378},{"x":1850,"y":374},{"x":1860,"y":385},{"x":1870,"y":380},{"x":1880,"y":376},{"x":1890,"y":382},{"x":1900,"y":377},{"x":1910,"y":377},{"x":1920,"y":380},{"x":1930,"y":383},{"x":1940,"y":382},{"x":1950,"y":378},{"x":1960,"y":374},{"x":1970,"y":376}],
"r440": [{"x":200,"y":334},{"x":210,"y":336},{"x":220,"y":327},{"x":230,"y":330},{"x":240,"y":333},{"x":250,"y":333},{"x":260,"y":335},{"x":270,"y":327},{"x":280,"y":328},{"x":290,"y":335},{"x":300,"y":332},{"x":310,"y":331},{"x":320,"y":336},{"x":330,"y":329},{"x":340,"y":330},{"x":350,"y":337},{"x":360,"y":329},{"x":370,"y":332},{"x":380,"y":337},{"x":390,"y":330},
{"x":400,"y":331},{"x":410,"y":334},{"x":420,"y":329},{"x":430,"y":328},{"x":440,"y":320},{"x":450,"y":335},{"x":460,"y":346},{"x":470,"y":333},{"x":480,"y":326},{"x":490,"y":329},{"x":500,"y":333},{"x":510,"y":337},{"x":520,"y":330},{"x":530,"y":330},{"x":540,"y":335},{"x":550,"y":331},{"x":560,"y":332},{"x":570,"y":336},{"x":580,"y":328},{"x":590,"y":326},
{"x":600,"y":337},{"x":610,"y":334},{"x":620,"y":330},{"x":630,"y":333},{"x":640,"y":329},{"x":650,"y":329},{"x":660,"y":333},{"x":670,"y":336},{"x":680,"y":334},{"x":690,"y":330},{"x":700,"y":327},{"x":710,"y":332},{"x":720,"y":336},{"x":730,"y":335},{"x":740,"y":331},{"x":750,"y":327},{"x":760,"y":330},{"x":770,"y":334},{"x":780,"y":335},{"x":790,"y":333},
{"x":800,"y":328},{"x":810,"y":330},{"x":820,"y":333},{"x":830,"y":336},{"x":840,"y":337},{"x":850,"y":331},{"x":860,"y":329},{"x":870,"y":328},{"x":880,"y":332},{"x":890,"y":337},{"x":900,"y":330},{"x":910,"y":329},{"x":920,"y":334},{"x":930,"y":334},{"x":940,"y":326},{"x":950,"y":332},{"x":960,"y":335},{"x":970,"y":330},{"x":980,"y":331},{"x":990,"y":335},
{"x":1000,"y":333},{"x":1010,"y":327},{"x":1020,"y":336},{"x":1030,"y":333},{"x":1040,"y":329},{"x":1050,"y":336},{"x":1060,"y":330},{"x":1070,"y":330},{"x":1080,"y":335},{"x":1090,"y":332},{"x":1100,"y":327},{"x":1110,"y":335},{"x":1120,"y":334},{"x":1130,"y":328},{"x":1140,"y":332},{"x":1150,"y":338},{"x":1160,"y":338},{"x":1170,"y":331},{"x":1180,"y":329},{"x":1190,"y":329},
{"x":1200,"y":331},{"x":1210,"y":334},{"x":1220,"y":334},{"x":1230,"y":332},{"x":1240,"y":328},{"x":1250,"y":329},{"x":1260,"y":335},{"x":1270,"y":337},{"x":1280,"y":330},{"x":1290,"y":331},{"x":1300,"y":333},{"x":1310,"y":328},{"x":1320,"y":327},{"x":1330,"y":334},{"x":1340,"y":336},{"x":1350,"y":335},{"x":1360,"y":332},{"x":1370,"y":330},{"x":1380,"y":329},{"x":1390,"y":333},
{"x":1400,"y":334},{"x":1410,"y":328},{"x":1420,"y":331},{"x":1430,"y":335},{"x":1440,"y":337},{"x":1450,"y":332},{"x":1460,"y":328},{"x":1470,"y":330},{"x":1480,"y":330},{"x":1490,"y":337},{"x":1500,"y":335},{"x":1510,"y":329},{"x":1520,"y":332},{"x":1530,"y":333},{"x":1540,"y":329},{"x":1550,"y":331},{"x":1560,"y":333},{"x":1570,"y":336},{"x":1580,"y":336},{"x":1590,"y":327},
{"x":1600,"y":327},{"x":1610,"y":334},{"x":1620,"y":334},{"x":1630,"y":331},{"x":1640,"y":331},{"x":1650,"y":335},{"x":1660,"y":335},{"x":1670,"y":329},{"x":1680,"y":329},{"x":1690,"y":333},{"x":1700,"y":332},{"x":1710,"y":336},{"x":1720,"y":336},{"x":1730,"y":330},{"x":1740,"y":330},{"x":1750,"y":327},{"x":1760,"y":328},{"x":1770,"y":335},{"x":1780,"y":333},{"x":1790,"y":332},
{"x":1800,"y":335},{"x":1810,"y":331},{"x":1820,"y":330},{"x":1830,"y":337},{"x":1840,"y":337},{"x":1850,"y":329},{"x":1860,"y":331},{"x":1870,"y":334},{"x":1880,"y":329},{"x":1890,"y":330},{"x":1900,"y":334},{"x":1910,"y":333},{"x":1920,"y":328},{"x":1930,"y":328},{"x":1940,"y":333},{"x":1950,"y":335},{"x":1960,"y":335},{"x":1970,"y":332}],
"r430": [{"x":200,"y":177},{"x":210,"y":181},{"x":220,"y":183},{"x":230,"y":184},{"x":240,"y":180},{"x":250,"y":177},{"x":260,"y":186},{"x":270,"y":183},{"x":280,"y":178},{"x":290,"y":186},{"x":300,"y":182},{"x":310,"y":179},{"x":320,"y":184},{"x":330,"y":181},{"x":340,"y":178},{"x":350,"y":192},{"x":360,"y":192},{"x":370,"y":194},{"x":380,"y":204},{"x":390,"y":208},
{"x":400,"y":210},{"x":410,"y":213},{"x":420,"y":227},{"x":430,"y":229},{"x":440,"y":220},{"x":450,"y":236},{"x":460,"y":235},{"x":470,"y":238},{"x":480,"y":245},{"x":490,"y":243},{"x":500,"y":243},{"x":510,"y":255},{"x":520,"y":256},{"x":530,"y":252},{"x":540,"y":259},{"x":550,"y":261},{"x":560,"y":257},{"x":570,"y":265},{"x":580,"y":264},{"x":590,"y":253},
{"x":600,"y":251},{"x":610,"y":250},{"x":620,"y":246},{"x":630,"y":246},{"x":640,"y":244},{"x":650,"y":236},{"x":660,"y":230},{"x":670,"y":225},{"x":680,"y":228},{"x":690,"y":225},{"x":700,"y":217},{"x":710,"y":216},{"x":720,"y":199},{"x":730,"y":214},{"x":740,"y":212},{"x":750,"y":203},{"x":760,"y":202},{"x":770,"y":201},{"x":780,"y":199},{"x":790,"y":201},
{"x":800,"y":200},{"x":810,"y":194},{"x":820,"y":193},{"x":830,"y":202},{"x":840,"y":197},{"x":850,"y":196},{"x":860,"y":199},{"x":870,"y":193},{"x":880,"y":190},{"x":890,"y":198},{"x":900,"y":198},{"x":910,"y":194},{"x":920,"y":193},{"x":930,"y":192},{"x":940,"y":195},{"x":950,"y":201},{"x":960,"y":197},{"x":970,"y":193},{"x":980,"y":191},{"x":990,"y":194},
{"x":1000,"y":199},{"x":1010,"y":196},{"x":1020,"y":193},{"x":1030,"y":191},{"x":1040,"y":190},{"x":1050,"y":195},{"x":1060,"y":195},{"x":1070,"y":197},{"x":1080,"y":193},{"x":1090,"y":188},{"x":1100,"y":190},{"x":1110,"y":195},{"x":1120,"y":196},{"x":1130,"y":192},{"x":1140,"y":186},{"x":1150,"y":191},{"x":1160,"y":193},{"x":1170,"y":195},{"x":1180,"y":194},{"x":1190,"y":187},
{"x":1200,"y":189},{"x":1210,"y":196},{"x":1220,"y":190},{"x":1230,"y":188},{"x":1240,"y":193},{"x":1250,"y":189},{"x":1260,"y":185},{"x":1270,"y":193},{"x":1280,"y":190},{"x":1290,"y":186},{"x":1300,"y":193},{"x":1310,"y":190},{"x":1320,"y":186},{"x":1330,"y":192},{"x":1340,"y":185},{"x":1350,"y":182},{"x":1360,"y":189},{"x":1370,"y":189},{"x":1380,"y":186},{"x":1390,"y":187},
{"x":1400,"y":190},{"x":1410,"y":185},{"x":1420,"y":183},{"x":1430,"y":189},{"x":1440,"y":186},{"x":1450,"y":184},{"x":1460,"y":187},{"x":1470,"y":190},{"x":1480,"y":180},{"x":1490,"y":181},{"x":1500,"y":188},{"x":1510,"y":185},{"x":1520,"y":184},{"x":1530,"y":187},{"x":1540,"y":186},{"x":1550,"y":182},{"x":1560,"y":181},{"x":1570,"y":186},{"x":1580,"y":190},{"x":1590,"y":189},
{"x":1600,"y":182},{"x":1610,"y":182},{"x":1620,"y":185},{"x":1630,"y":183},{"x":1640,"y":181},{"x":1650,"y":187},{"x":1660,"y":187},{"x":1670,"y":180},{"x":1680,"y":183},{"x":1690,"y":186},{"x":1700,"y":180},{"x":1710,"y":189},{"x":1720,"y":186},{"x":1730,"y":181},{"x":1740,"y":189},{"x":1750,"y":185},{"x":1760,"y":182},{"x":1770,"y":183},{"x":1780,"y":185},{"x":1790,"y":188},
{"x":1800,"y":186},{"x":1810,"y":186},{"x":1820,"y":180},{"x":1830,"y":182},{"x":1840,"y":189},{"x":1850,"y":190},{"x":1860,"y":184},{"x":1870,"y":185},{"x":1880,"y":188},{"x":1890,"y":183},{"x":1900,"y":185},{"x":1910,"y":188},{"x":1920,"y":190},{"x":1930,"y":186},{"x":1940,"y":183},{"x":1950,"y":191},{"x":1960,"y":186},{"x":1970,"y":181}],
"r350": [{"x":200,"y":132},{"x":210,"y":133},{"x":220,"y":129},{"x":230,"y":128},{"x":240,"y":136},{"x":250,"y":135},{"x":260,"y":130},{"x":270,"y":134},{"x":280,"y":127},{"x":290,"y":128},{"x":300,"y":130},{"x":310,"y":123},{"x":320,"y":129},{"x":330,"y":134},{"x":340,"y":128},{"x":350,"y":135},{"x":360,"y":140},{"x":370,"y":137},{"x":380,"y":141},{"x":390,"y":151},
{"x":400,"y":155},{"x":410,"y":153},{"x":420,"y":156},{"x":430,"y":164},{"x":440,"y":163},{"x":450,"y":166},{"x":460,"y":175},{"x":470,"y":181},{"x":480,"y":183},{"x":490,"y":185},{"x":500,"y":182},{"x":510,"y":186},{"x":520,"y":194},{"x":530,"y":197},{"x":540,"y":208},{"x":550,"y":189},{"x":560,"y":186},{"x":570,"y":190},{"x":580,"y":192},{"x":590,"y":186},
{"x":600,"y":184},{"x":610,"y":184},{"x":620,"y":176},{"x":630,"y":172},{"x":640,"y":174},{"x":650,"y":171},{"x":660,"y":170},{"x":670,"y":166},{"x":680,"y":155},{"x":690,"y":151},{"x":700,"y":152},{"x":710,"y":152},{"x":720,"y":145},{"x":730,"y":146},{"x":740,"y":148},{"x":750,"y":147},{"x":760,"y":143},{"x":770,"y":140},{"x":780,"y":139},{"x":790,"y":141},
{"x":800,"y":144},{"x":810,"y":145},{"x":820,"y":134},{"x":830,"y":135},{"x":840,"y":138},{"x":850,"y":140},{"x":860,"y":139},{"x":870,"y":136},{"x":880,"y":134},{"x":890,"y":134},{"x":900,"y":137},{"x":910,"y":140},{"x":920,"y":139},{"x":930,"y":137},{"x":940,"y":130},{"x":950,"y":134},{"x":960,"y":138},{"x":970,"y":139},{"x":980,"y":135},{"x":990,"y":129},
{"x":1000,"y":133},{"x":1010,"y":137},{"x":1020,"y":138},{"x":1030,"y":135},{"x":1040,"y":134},{"x":1050,"y":132},{"x":1060,"y":130},{"x":1070,"y":139},{"x":1080,"y":139},{"x":1090,"y":133},{"x":1100,"y":132},{"x":1110,"y":132},{"x":1120,"y":133},{"x":1130,"y":136},{"x":1140,"y":134},{"x":1150,"y":134},{"x":1160,"y":130},{"x":1170,"y":129},{"x":1180,"y":136},{"x":1190,"y":134},
{"x":1200,"y":127},{"x":1210,"y":136},{"x":1220,"y":133},{"x":1230,"y":128},{"x":1240,"y":132},{"x":1250,"y":131},{"x":1260,"y":127},{"x":1270,"y":129},{"x":1280,"y":133},{"x":1290,"y":136},{"x":1300,"y":129},{"x":1310,"y":128},{"x":1320,"y":125},{"x":1330,"y":125},{"x":1340,"y":135},{"x":1350,"y":131},{"x":1360,"y":126},{"x":1370,"y":129},{"x":1380,"y":128},{"x":1390,"y":125},
{"x":1400,"y":129},{"x":1410,"y":131},{"x":1420,"y":125},{"x":1430,"y":127},{"x":1440,"y":130},{"x":1450,"y":125},{"x":1460,"y":122},{"x":1470,"y":131},{"x":1480,"y":131},{"x":1490,"y":122},{"x":1500,"y":127},{"x":1510,"y":129},{"x":1520,"y":125},{"x":1530,"y":127},{"x":1540,"y":130},{"x":1550,"y":130},{"x":1560,"y":126},{"x":1570,"y":124},{"x":1580,"y":122},{"x":1590,"y":127},
{"x":1600,"y":117},{"x":1610,"y":124},{"x":1620,"y":127},{"x":1630,"y":131},{"x":1640,"y":123},{"x":1650,"y":125},{"x":1660,"y":130},{"x":1670,"y":122},{"x":1680,"y":124},{"x":1690,"y":128},{"x":1700,"y":121},{"x":1710,"y":126},{"x":1720,"y":129},{"x":1730,"y":130},{"x":1740,"y":127},{"x":1750,"y":125},{"x":1760,"y":129},{"x":1770,"y":123},{"x":1780,"y":125},{"x":1790,"y":132},
{"x":1800,"y":127},{"x":1810,"y":130},{"x":1820,"y":133},{"x":1830,"y":126},{"x":1840,"y":125},{"x":1850,"y":132},{"x":1860,"y":131},{"x":1870,"y":130},{"x":1880,"y":133},{"x":1890,"y":127},{"x":1900,"y":129},{"x":1910,"y":134},{"x":1920,"y":131},{"x":1930,"y":130},{"x":1940,"y":126},{"x":1950,"y":136},{"x":1960,"y":136},{"x":1970,"y":129}],
"r300": [{"x":200,"y":73},{"x":210,"y":69},{"x":220,"y":68},{"x":230,"y":74},{"x":240,"y":75},{"x":250,"y":77},{"x":260,"y":74},{"x":270,"y":71},{"x":280,"y":70},{"x":290,"y":63},{"x":300,"y":57},{"x":310,"y":65},{"x":320,"y":70},{"x":330,"y":72},{"x":340,"y":72},{"x":350,"y":74},{"x":360,"y":76},{"x":370,"y":83},{"x":380,"y":92},{"x":390,"y":96},
{"x":400,"y":96},{"x":410,"y":97},{"x":420,"y":108},{"x":430,"y":114},{"x":440,"y":112},{"x":450,"y":120},{"x":460,"y":128},{"x":470,"y":132},{"x":480,"y":135},{"x":490,"y":135},{"x":500,"y":139},{"x":510,"y":149},{"x":520,"y":154},{"x":530,"y":150},{"x":540,"y":148},{"x":550,"y":146},{"x":560,"y":148},{"x":570,"y":151},{"x":580,"y":142},{"x":590,"y":139},
{"x":600,"y":141},{"x":610,"y":136},{"x":620,"y":128},{"x":630,"y":125},{"x":640,"y":126},{"x":650,"y":125},{"x":660,"y":121},{"x":670,"y":113},{"x":680,"y":105},{"x":690,"y":108},{"x":700,"y":103},{"x":710,"y":95},{"x":720,"y":96},{"x":730,"y":98},{"x":740,"y":96},{"x":750,"y":91},{"x":760,"y":87},{"x":770,"y":86},{"x":780,"y":87},{"x":790,"y":92},
{"x":800,"y":90},{"x":810,"y":82},{"x":820,"y":80},{"x":830,"y":85},{"x":840,"y":85},{"x":850,"y":82},{"x":860,"y":81},{"x":870,"y":85},{"x":880,"y":79},{"x":890,"y":78},{"x":900,"y":70},{"x":910,"y":83},{"x":920,"y":82},{"x":930,"y":86},{"x":940,"y":78},{"x":950,"y":78},{"x":960,"y":83},{"x":970,"y":79},{"x":980,"y":73},{"x":990,"y":76},
{"x":1000,"y":81},{"x":1010,"y":83},{"x":1020,"y":79},{"x":1030,"y":79},{"x":1040,"y":75},{"x":1050,"y":76},{"x":1060,"y":83},{"x":1070,"y":81},{"x":1080,"y":77},{"x":1090,"y":73},{"x":1100,"y":75},{"x":1110,"y":78},{"x":1120,"y":80},{"x":1130,"y":79},{"x":1140,"y":78},{"x":1150,"y":76},{"x":1160,"y":72},{"x":1170,"y":80},{"x":1180,"y":78},{"x":1190,"y":72},
{"x":1200,"y":79},{"x":1210,"y":74},{"x":1220,"y":72},{"x":1230,"y":80},{"x":1240,"y":74},{"x":1250,"y":71},{"x":1260,"y":73},{"x":1270,"y":76},{"x":1280,"y":80},{"x":1290,"y":74},{"x":1300,"y":71},{"x":1310,"y":69},{"x":1320,"y":69},{"x":1330,"y":76},{"x":1340,"y":75},{"x":1350,"y":74},{"x":1360,"y":74},{"x":1370,"y":71},{"x":1380,"y":69},{"x":1390,"y":71},
{"x":1400,"y":75},{"x":1410,"y":76},{"x":1420,"y":71},{"x":1430,"y":69},{"x":1440,"y":70},{"x":1450,"y":74},{"x":1460,"y":76},{"x":1470,"y":67},{"x":1480,"y":67},{"x":1490,"y":75},{"x":1500,"y":74},{"x":1510,"y":72},{"x":1520,"y":72},{"x":1530,"y":71},{"x":1540,"y":75},{"x":1550,"y":76},{"x":1560,"y":69},{"x":1570,"y":70},{"x":1580,"y":73},{"x":1590,"y":73},
{"x":1600,"y":70},{"x":1610,"y":68},{"x":1620,"y":77},{"x":1630,"y":74},{"x":1640,"y":71},{"x":1650,"y":75},{"x":1660,"y":68},{"x":1670,"y":71},{"x":1680,"y":74},{"x":1690,"y":69},{"x":1700,"y":72},{"x":1710,"y":77},{"x":1720,"y":75},{"x":1730,"y":70},{"x":1740,"y":70},{"x":1750,"y":72},{"x":1760,"y":67},{"x":1770,"y":74},{"x":1780,"y":76},{"x":1790,"y":67},
{"x":1800,"y":73},{"x":1810,"y":75},{"x":1820,"y":69},{"x":1830,"y":73},{"x":1840,"y":74},{"x":1850,"y":70},{"x":1860,"y":72},{"x":1870,"y":76},{"x":1880,"y":68},{"x":1890,"y":69},{"x":1900,"y":75},{"x":1910,"y":71},{"x":1920,"y":71},{"x":1930,"y":74},{"x":1940,"y":77},{"x":1950,"y":68},{"x":1960,"y":70},{"x":1970,"y":77}],
"r30": [{"x":200,"y":19},{"x":210,"y":24},{"x":220,"y":24},{"x":230,"y":19},{"x":240,"y":27},{"x":250,"y":26},{"x":260,"y":21},{"x":270,"y":20},{"x":280,"y":16},{"x":290,"y":14},{"x":300,"y":16},{"x":310,"y":19},{"x":320,"y":20},{"x":330,"y":20},{"x":340,"y":19},{"x":350,"y":18},{"x":360,"y":25},{"x":370,"y":30},{"x":380,"y":34},{"x":390,"y":39},
{"x":400,"y":31},{"x":410,"y":37},{"x":420,"y":45},{"x":430,"y":42},{"x":440,"y":47},{"x":450,"y":52},{"x":460,"y":56},{"x":470,"y":61},{"x":480,"y":56},{"x":490,"y":60},{"x":500,"y":68},{"x":510,"y":66},{"x":520,"y":69},{"x":530,"y":75},{"x":540,"y":67},{"x":550,"y":66},{"x":560,"y":73},{"x":570,"y":66},{"x":580,"y":62},{"x":590,"y":65},
{"x":600,"y":61},{"x":610,"y":55},{"x":620,"y":51},{"x":630,"y":54},{"x":640,"y":53},{"x":650,"y":40},{"x":660,"y":42},{"x":670,"y":41},{"x":680,"y":39},{"x":690,"y":39},{"x":700,"y":29},{"x":710,"y":32},{"x":720,"y":34},{"x":730,"y":27},{"x":740,"y":29},{"x":750,"y":32},{"x":760,"y":25},{"x":770,"y":25},{"x":780,"y":32},{"x":790,"y":27},
{"x":800,"y":22},{"x":810,"y":30},{"x":820,"y":25},{"x":830,"y":21},{"x":840,"y":22},{"x":850,"y":22},{"x":860,"y":25},{"x":870,"y":24},{"x":880,"y":18},{"x":890,"y":18},{"x":900,"y":24},{"x":910,"y":25},{"x":920,"y":27},{"x":930,"y":22},{"x":940,"y":20},{"x":950,"y":20},{"x":960,"y":20},{"x":970,"y":27},{"x":980,"y":18},{"x":990,"y":20},
{"x":1000,"y":25},{"x":1010,"y":18},{"x":1020,"y":21},{"x":1030,"y":23},{"x":1040,"y":19},{"x":1050,"y":22},{"x":1060,"y":24},{"x":1070,"y":16},{"x":1080,"y":16},{"x":1090,"y":24},{"x":1100,"y":22},{"x":1110,"y":19},{"x":1120,"y":23},{"x":1130,"y":25},{"x":1140,"y":20},{"x":1150,"y":20},{"x":1160,"y":24},{"x":1170,"y":17},{"x":1180,"y":16},{"x":1190,"y":22},
{"x":1200,"y":19},{"x":1210,"y":20},{"x":1220,"y":25},{"x":1230,"y":25},{"x":1240,"y":17},{"x":1250,"y":16},{"x":1260,"y":22},{"x":1270,"y":21},{"x":1280,"y":20},{"x":1290,"y":18},{"x":1300,"y":16},{"x":1310,"y":23},{"x":1320,"y":23},{"x":1330,"y":19},{"x":1340,"y":21},{"x":1350,"y":14},{"x":1360,"y":17},{"x":1370,"y":21},{"x":1380,"y":18},{"x":1390,"y":23},
{"x":1400,"y":23},{"x":1410,"y":16},{"x":1420,"y":16},{"x":1430,"y":20},{"x":1440,"y":21},{"x":1450,"y":18},{"x":1460,"y":14},{"x":1470,"y":22},{"x":1480,"y":22},{"x":1490,"y":15},{"x":1500,"y":19},{"x":1510,"y":21},{"x":1520,"y":18},{"x":1530,"y":17},{"x":1540,"y":23},{"x":1550,"y":24},{"x":1560,"y":17},{"x":1570,"y":19},{"x":1580,"y":20},{"x":1590,"y":16},
{"x":1600,"y":15},{"x":1610,"y":20},{"x":1620,"y":21},{"x":1630,"y":17},{"x":1640,"y":22},{"x":1650,"y":23},{"x":1660,"y":18},{"x":1670,"y":18},{"x":1680,"y":16},{"x":1690,"y":14},{"x":1700,"y":24},{"x":1710,"y":22},{"x":1720,"y":17},{"x":1730,"y":21},{"x":1740,"y":19},{"x":1750,"y":17},{"x":1760,"y":21},{"x":1770,"y":20},{"x":1780,"y":14},{"x":1790,"y":15},
{"x":1800,"y":22},{"x":1810,"y":23},{"x":1820,"y":20},{"x":1830,"y":18},{"x":1840,"y":17},{"x":1850,"y":17},{"x":1860,"y":23},{"x":1870,"y":22},{"x":1880,"y":16},{"x":1890,"y":16},{"x":1900,"y":18},{"x":1910,"y":25},{"x":1920,"y":21},{"x":1930,"y":17},{"x":1940,"y":15},{"x":1950,"y":19},{"x":1960,"y":24},{"x":1970,"y":21}],
"labL": [{"t":"600 °C","x":1918,"y":456},{"t":"550 °C","x":1918,"y":402},{"t":"470 °C","x":1918,"y":342},{"t":"450 °C","x":1918,"y":191},{"t":"400 °C","x":1918,"y":141},{"t":"350 °C","x":1918,"y":89},{"t":"30 °C","x":1918,"y":36}],
"labR": [{"t":"600 °C","x":1913,"y":447},{"t":"550 °C","x":1913,"y":393},{"t":"440 °C","x":1913,"y":346},{"t":"430 °C","x":1913,"y":204},{"t":"350 °C","x":1913,"y":146},{"t":"300 °C","x":1913,"y":91},{"t":"30 °C","x":1913,"y":41}],
"titL": [{"t":"1wt% Rh/Al₂O₃-110","x":1469,"y":521},{"t":"325 nm","x":1469,"y":497}],
"titR": [{"t":"3wt% Rh/Al₂O₃-110","x":1469,"y":521},{"t":"325 nm","x":1469,"y":497}],
"pkL": [{"t":"553","x":553,"y":290,"y2":62,"yt":270}],
"pkR": [{"t":"553","x":553,"y":293,"y2":76,"yt":278}]
},
"hconcat": [
{
 "width": 393, "height": 557,
 "encoding": {
  "x": {"field": "x", "type": "quantitative", "scale": {"domain": [200, 2000], "nice": false, "zero": false}, "axis": {"values": [350, 650, 950, 1250, 1550, 1850], "format": "d", "title": "Raman Shift / cm⁻¹", "labelFont": "Liberation Serif", "labelFontSize": 18, "labelColor": "#000", "labelPadding": 7, "titleFont": "Liberation Serif", "titleFontSize": 20, "titleFontWeight": "normal", "titleColor": "#000", "titlePadding": 1}},
  "y": {"field": "y", "type": "quantitative", "scale": {"domain": [0, 557], "nice": false, "zero": false}, "axis": null}
 },
 "layer": [
  {"data": {"name": "l600"}, "mark": {"type": "line", "clip": true}, "encoding": {}},
  {"data": {"name": "l550"}, "mark": {"type": "line", "clip": true}, "encoding": {}},
  {"data": {"name": "l470"}, "mark": {"type": "line", "clip": true}, "encoding": {}},
  {"data": {"name": "l450"}, "mark": {"type": "line", "clip": true}, "encoding": {}},
  {"data": {"name": "l400"}, "mark": {"type": "line", "clip": true}, "encoding": {}},
  {"data": {"name": "l350"}, "mark": {"type": "line", "clip": true}, "encoding": {}},
  {"data": {"name": "l30"}, "mark": {"type": "line", "clip": true}, "encoding": {}},
  {"data": {"name": "pkL"}, "mark": {"type": "rule", "color": "#000", "strokeWidth": 1.6, "strokeDash": [2, 3]}, "encoding": {"y": {"field": "y2", "type": "quantitative"}, "y2": {"field": "yt"}}},
  {"data": {"name": "pkL"}, "mark": {"type": "text", "angle": 270, "align": "center", "baseline": "middle", "font": "Liberation Sans", "fontSize": 15, "color": "#000"}, "encoding": {"text": {"field": "t"}}},
  {"data": {"name": "labL"}, "mark": {"type": "text", "align": "right", "baseline": "middle", "font": "Liberation Serif", "fontSize": 18, "color": "#000"}, "encoding": {"text": {"field": "t"}}},
  {"data": {"name": "titL"}, "mark": {"type": "text", "align": "center", "baseline": "middle", "font": "Liberation Serif", "fontSize": 19, "color": "#000"}, "encoding": {"text": {"field": "t"}}}
 ]
},
{
 "width": 385, "height": 557,
 "encoding": {
  "x": {"field": "x", "type": "quantitative", "scale": {"domain": [200, 1964], "nice": false, "zero": false}, "axis": {"values": [350, 650, 950, 1250, 1550, 1850], "format": "d", "title": "Raman Shift / cm⁻¹", "labelFont": "Liberation Serif", "labelFontSize": 18, "labelColor": "#000", "labelPadding": 7, "titleFont": "Liberation Serif", "titleFontSize": 20, "titleFontWeight": "normal", "titleColor": "#000", "titlePadding": 1}},
  "y": {"field": "y", "type": "quantitative", "scale": {"domain": [0, 557], "nice": false, "zero": false}, "axis": null}
 },
 "layer": [
  {"data": {"name": "r600"}, "mark": {"type": "line", "clip": true}, "encoding": {}},
  {"data": {"name": "r550"}, "mark": {"type": "line", "clip": true}, "encoding": {}},
  {"data": {"name": "r440"}, "mark": {"type": "line", "clip": true}, "encoding": {}},
  {"data": {"name": "r430"}, "mark": {"type": "line", "clip": true}, "encoding": {}},
  {"data": {"name": "r350"}, "mark": {"type": "line", "clip": true}, "encoding": {}},
  {"data": {"name": "r300"}, "mark": {"type": "line", "clip": true}, "encoding": {}},
  {"data": {"name": "r30"}, "mark": {"type": "line", "clip": true}, "encoding": {}},
  {"data": {"name": "pkR"}, "mark": {"type": "rule", "color": "#000", "strokeWidth": 1.6, "strokeDash": [2, 3]}, "encoding": {"y": {"field": "y2", "type": "quantitative"}, "y2": {"field": "yt"}}},
  {"data": {"name": "pkR"}, "mark": {"type": "text", "angle": 270, "align": "center", "baseline": "middle", "font": "Liberation Sans", "fontSize": 15, "color": "#000"}, "encoding": {"text": {"field": "t"}}},
  {"data": {"name": "labR"}, "mark": {"type": "text", "align": "right", "baseline": "middle", "font": "Liberation Serif", "fontSize": 18, "color": "#000"}, "encoding": {"text": {"field": "t"}}},
  {"data": {"name": "titR"}, "mark": {"type": "text", "align": "center", "baseline": "middle", "font": "Liberation Serif", "fontSize": 19, "color": "#000"}, "encoding": {"text": {"field": "t"}}}
 ]
}
]
}
